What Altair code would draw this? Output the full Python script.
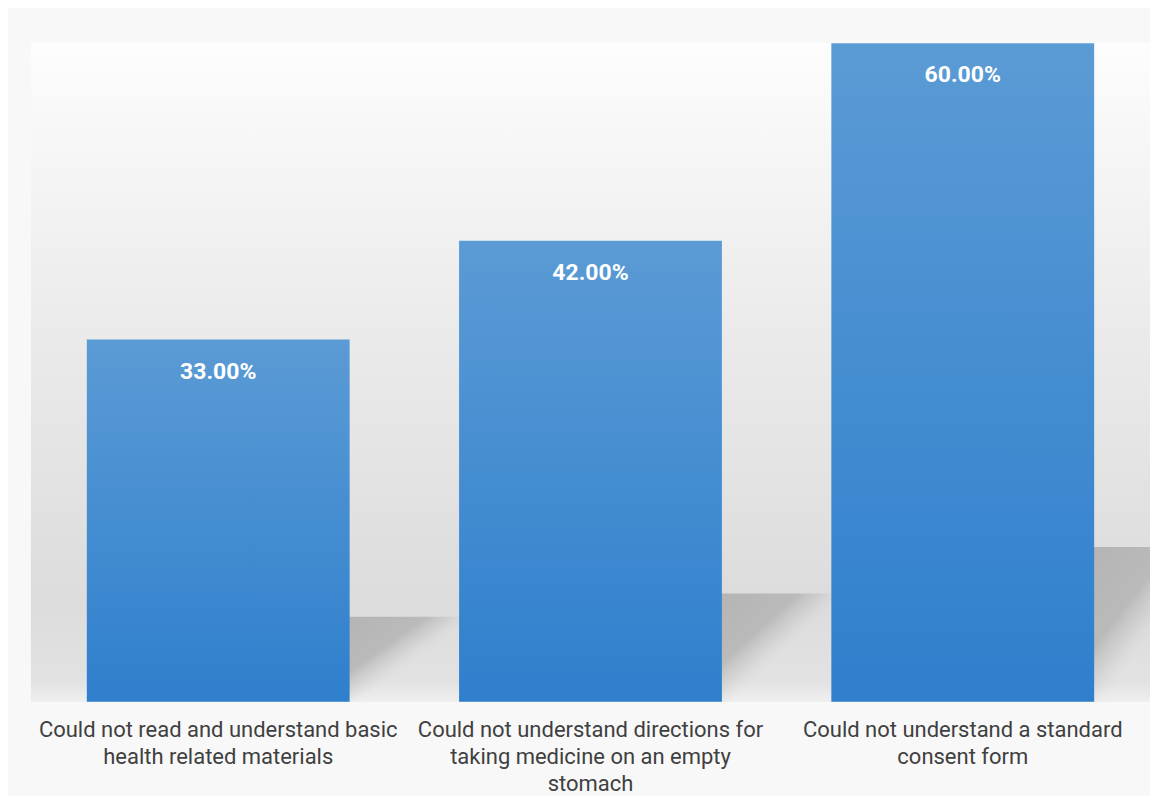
import altair as alt
import pandas as pd

label_lines = [
    ["Could not read and understand basic", "health related materials"],
    ["Could not understand directions for", "taking medicine on an empty", "stomach"],
    ["Could not understand a standard", "consent form"],
]
categories = [" ".join(l) for l in label_lines]
values = [0.33, 0.42, 0.60]

df = pd.DataFrame({"category": categories, "value": values})

# multi-line axis labels
expr = "''"
for cat, lines in reversed(list(zip(categories, label_lines))):
    arr = "[" + ",".join("'" + s + "'" for s in lines) + "]"
    expr = f"datum.label == '{cat}' ? {arr} : ({expr})"

x = alt.X(
    "category:N",
    sort=categories,
    scale=alt.Scale(paddingInner=0.294, paddingOuter=0.15),
    axis=alt.Axis(
        title=None, labelAngle=0, domain=False, ticks=False, grid=False,
        labelFont="Roboto", labelFontSize=22, labelColor="#404040",
        labelLineHeight=27, labelPadding=18, labelLimit=0, labelExpr=expr,
    ),
)
y = alt.Y("value:Q", scale=alt.Scale(domain=[0, 0.6], nice=False), axis=None)

bg_grad = alt.LinearGradient(
    gradient="linear", x1=0, y1=0, x2=0, y2=1,
    stops=[
        alt.GradientStop(color="#fdfdfd", offset=0),
        alt.GradientStop(color="#ececec", offset=0.4),
        alt.GradientStop(color="#dcdcdc", offset=0.85),
        alt.GradientStop(color="#e2e2e2", offset=0.97),
        alt.GradientStop(color="#efefef", offset=1),
    ],
)
bar_grad = alt.LinearGradient(
    gradient="linear", x1=0, y1=0, x2=0, y2=1,
    stops=[
        alt.GradientStop(color="#5b9bd5", offset=0),
        alt.GradientStop(color="#2f7fcd", offset=1),
    ],
)
shadow_grad = alt.LinearGradient(
    gradient="linear", x1=0, y1=0, x2=1, y2=1,
    stops=[
        alt.GradientStop(color="rgba(180,180,180,1)", offset=0),
        alt.GradientStop(color="rgba(186,186,186,1)", offset=0.36),
        alt.GradientStop(color="rgba(200,200,200,0.55)", offset=0.47),
        alt.GradientStop(color="rgba(220,220,220,0)", offset=0.58),
        alt.GradientStop(color="rgba(220,220,220,0)", offset=1),
    ],
)

base = alt.Chart(df)

background = base.mark_rect().encode(fill=alt.value(bg_grad))

shadows = base.transform_calculate(shadow="datum.value * 0.235").mark_bar(
    width=120, xOffset=182, fill=shadow_grad
).encode(x=x, y=alt.Y("shadow:Q", scale=alt.Scale(domain=[0, 0.6], nice=False), axis=None))

bars = base.mark_bar(fill=bar_grad).encode(x=x, y=y)

texts = base.mark_text(
    font="Roboto", fontSize=23, fontWeight="bold", color="white",
    baseline="alphabetic", dy=39,
).encode(x=x, y=y, text=alt.Text("value:Q", format=".2%"))

chart = alt.layer(background, shadows, bars, texts).properties(
    width=1120, height=659,
    autosize=alt.AutoSizeParams(type="none"),
    padding={"left": 23, "top": 35, "right": 0, "bottom": 94},
    background="#f8f8f8",
).configure_view(stroke=None)

chart.save("out.html", embed_options={"renderer": "svg", "actions": False})
